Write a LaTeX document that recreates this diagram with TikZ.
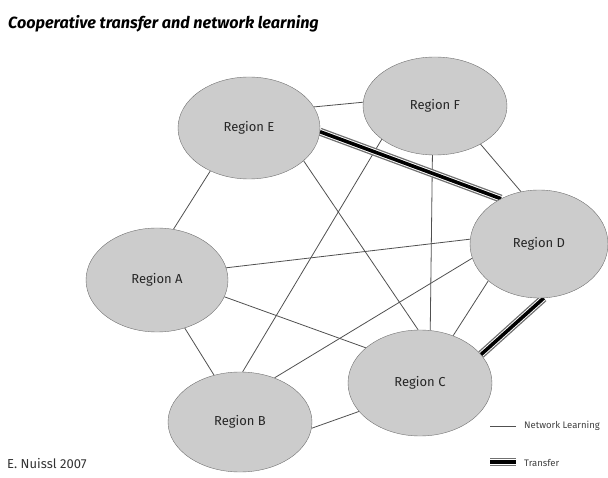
\documentclass[tikz,border=0pt]{standalone}
\usepackage{fontspec}
\setmainfont{Fira Sans}
\usetikzlibrary{positioning,shapes,backgrounds}
\definecolor{regfill}{HTML}{CCCCCC}
\definecolor{regline}{HTML}{707070}
\definecolor{netline}{HTML}{505050}
\tikzstyle{region} = [ellipse, draw=regline, fill=regfill, inner sep=0pt, text=black!85, font=\fontsize{13}{15}\selectfont]
\tikzstyle{learn} = [draw=netline, line width=0.8pt]
\tikzstyle{transferbase} = [draw=regline, line width=1.3pt, double=white, double distance=5.5pt]
\tikzstyle{transfercore} = [draw=black, line width=3.6pt]
\tikzstyle{legend} = [anchor=west, inner sep=0pt, text=black!75, font=\fontsize{9.5}{11}\selectfont]

\begin{document}
\begin{tikzpicture}[x=1pt,y=-1pt]
\useasboundingbox (0,0) rectangle (608,478);

\node (title) [anchor=base west, inner sep=0pt, font=\fontsize{16.2}{19}\selectfont\bfseries\itshape] at (8,29) {Cooperative transfer and network learning};

\node (regE) [region, minimum width=142pt, minimum height=102pt] at (249,128) {Region E};
\node (regF) [region, minimum width=144pt, minimum height=98pt] at (435,106) {Region F};
\node (regD) [region, minimum width=138pt, minimum height=108pt] at (539,244) {Region D};
\node (regA) [region, minimum width=142pt, minimum height=104pt] at (157,280) {Region A};
\node (regC) [region, minimum width=144pt, minimum height=106pt] at (420,383) {Region C};
\node (regB) [region, minimum width=144pt, minimum height=100pt] at (240,422) {Region B};

\node (author) [anchor=base west, inner sep=0pt, text=black!80, font=\fontsize{13}{15}\selectfont] at (7,468) {E. Nuissl 2007};

% legend
\node (lglearn) [legend] at (524,426) {Network Learning};
\node (lgtrans) [legend] at (524,463) {Transfer};
\coordinate (lglearnA) at (490,426);
\coordinate (lgtransA) at (490,462);
\coordinate (lgtransB) at (516,462);
\draw [learn] (lglearnA) -- ([xshift=-8pt]lglearn.west);
\draw [transferbase] (lgtransA) -- (lgtransB);
\draw [transfercore] (lgtransA) -- (lgtransB);

\begin{scope}[on background layer]
% network learning
\draw [learn] (regE.18) -- (regF.177);
\draw [learn] (regE.228) -- (regA.72);
\draw [learn] (regE.-31) -- (regC.92);
\draw [learn] (regF.-40) -- (regD.109);
\draw [learn] (regF.-93) -- (regC.79);
\draw [learn] (regF.212) -- (regB.87);
\draw [learn] (regA.10) -- (regD.176);
\draw [learn] (regA.-14) -- (regC.147);
\draw [learn] (regA.-60) -- (regB.119);
\draw [learn] (regD.192) -- (regB.52);
\draw [learn] (regD.216) -- (regC.55);
\draw [learn] (regB.-5) -- (regC.205);

% transfer
\draw [transferbase] (regE.-3) -- (regD.130);
\draw [transfercore] (regE.-3) -- (regD.130);
\draw [transferbase] (regD.-85) -- (regC.25);
\draw [transfercore] (regD.-85) -- (regC.25);
\end{scope}

\end{tikzpicture}
\end{document}
